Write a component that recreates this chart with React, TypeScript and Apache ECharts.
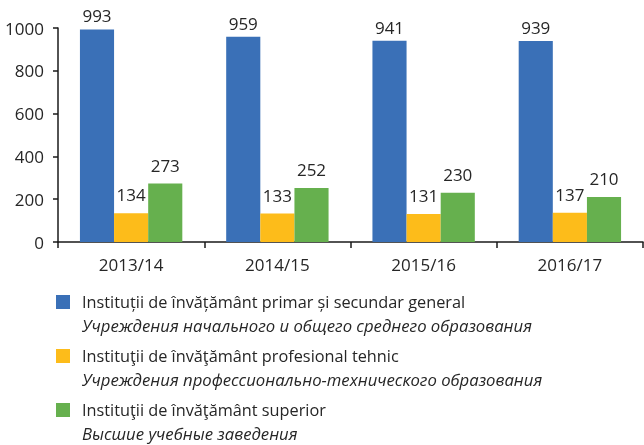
import React, { useEffect, useRef } from "react";
import * as echarts from "echarts";

const categories = ["2013/14", "2014/15", "2015/16", "2016/17"];
const seriesRo = [
  "Instituții de învățământ primar și secundar general",
  "Instituţii de învăţământ profesional tehnic",
  "Instituţii de învăţământ superior",
];
const seriesRu = [
  "Учреждения начального и общего среднего образования",
  "Учреждения профессионально-технического образования",
  "Высшие учебные заведения",
];
const generalValues = [993, 959, 941, 939];
const vocationalValues = [134, 133, 131, 137];
const higherValues = [273, 252, 230, 210];
const colors = ["#3a70b7", "#fdbc1a", "#66b04e"];

const FONT = "'Open Sans', 'Noto Sans', sans-serif";
const TXT = "#262626";

export default function App() {
  const ref = useRef<HTMLDivElement>(null);
  useEffect(() => {
    if (!ref.current) return;
    const chart = echarts.init(ref.current, undefined, { renderer: "svg" });
    const values = [generalValues, vocationalValues, higherValues];
    const labelDistances = [5, 10, 10];
    const legendCenters = [302, 356, 410];
    const graphic: any[] = [];
    seriesRo.forEach((name, i) => {
      graphic.push({
        type: "rect",
        shape: { x: 56, y: legendCenters[i] - 7, width: 14, height: 14 },
        style: { fill: colors[i] },
      });
      graphic.push({
        type: "text",
        x: 82,
        y: legendCenters[i],
        style: {
          text: name,
          fontFamily: FONT,
          fontSize: 16.3,
          fill: TXT,
          verticalAlign: "middle",
        },
      });
      graphic.push({
        type: "text",
        x: 82,
        y: legendCenters[i] + 23,
        style: {
          text: seriesRu[i],
          fontFamily: FONT,
          fontSize: 16.7,
          fontStyle: "italic",
          fill: TXT,
          verticalAlign: "middle",
        },
      });
    });
    chart.setOption({
      animation: false,
      textStyle: { fontFamily: FONT },
      grid: { left: 58, right: 1, top: 28, bottom: 203, containLabel: false },
      xAxis: {
        type: "category",
        data: categories,
        axisLine: { show: true, lineStyle: { color: "#1a1a1a", width: 1.5 } },
        axisTick: { show: true, length: 6, lineStyle: { color: "#1a1a1a", width: 1.5 } },
        axisLabel: { fontSize: 17, color: TXT, margin: 14, fontFamily: FONT },
      },
      yAxis: {
        type: "value",
        min: 0,
        max: 1000,
        interval: 200,
        splitLine: { show: false },
        axisLine: { show: true, lineStyle: { color: "#1a1a1a", width: 1.5 } },
        axisTick: { show: true, length: 5, lineStyle: { color: "#1a1a1a", width: 1.5 } },
        axisLabel: {
          fontSize: 17,
          color: TXT,
          margin: 14,
          fontFamily: FONT,
          formatter: (v: number) => String(v),
        },
      },
      series: values.map((v, i) => ({
        type: "bar",
        name: seriesRo[i],
        data: v,
        barGap: "0%",
        barCategoryGap: "30%",
        itemStyle: { color: colors[i] },
        label: {
          show: true,
          position: "top",
          distance: labelDistances[i],
          fontSize: 17,
          color: TXT,
          fontFamily: FONT,
        },
      })),
      graphic,
    });
    return () => chart.dispose();
  }, []);
  return (
    <div
      ref={ref}
      style={{ position: "fixed", left: 0, top: 0, width: 644, height: 445 }}
    />
  );
}
